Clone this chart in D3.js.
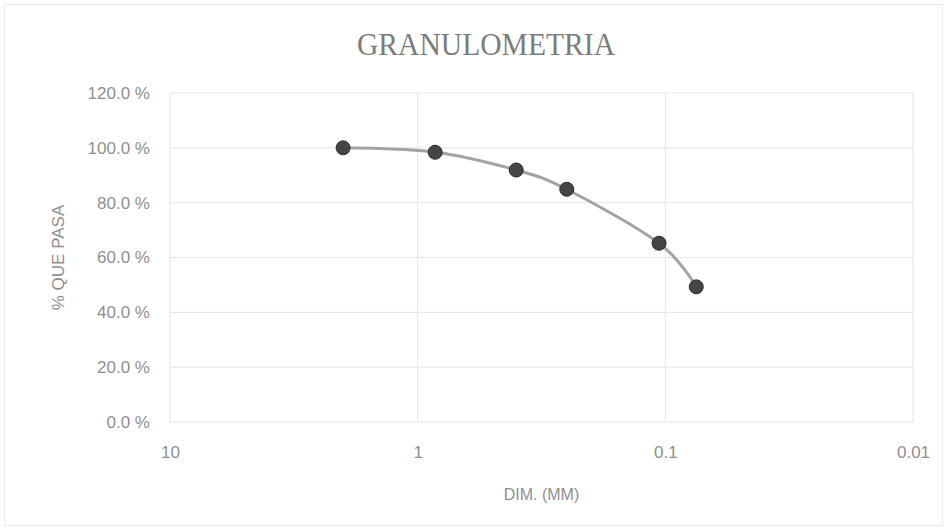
<!DOCTYPE html>
<html>
<head>
<meta charset="utf-8">
<script src="https://cdn.jsdelivr.net/npm/d3@7"></script>
<style>
  html, body { margin: 0; padding: 0; background: #fff; }
  svg { display: block; }
</style>
</head>
<body>
<svg id="chart" width="947" height="530"></svg>
<script>
// ---- data ----
const title = "GRANULOMETRIA";
const xTitle = "DIM. (MM)";
const yTitle = "% QUE PASA";
const sizesMM = [2.0, 0.85, 0.40, 0.25, 0.106, 0.075];
const percentPassing = [100.0, 98.4, 91.9, 84.9, 65.2, 49.3];
const xTickValues = [10, 1, 0.1, 0.01];
const xTickLabels = ["10", "1", "0.1", "0.01"];
const yTickValues = [0, 20, 40, 60, 80, 100, 120];

// ---- layout ----
const svg = d3.select("#chart");
const W = 947, H = 530;
const plot = { left: 170, right: 913, top: 93, bottom: 422 };
const textColor = "#8f8f8f";
const fontSans = "'Liberation Sans', Arial, sans-serif";

svg.append("rect")
  .attr("x", 4.5).attr("y", 4.5).attr("width", W - 9).attr("height", H - 9)
  .attr("fill", "#fff").attr("stroke", "#ececec").attr("stroke-width", 1);

const x = d3.scaleLog().domain([10, 0.01]).range([plot.left, plot.right]);
const y = d3.scaleLinear().domain([0, 120]).range([plot.bottom, plot.top]);

// gridlines
const grid = svg.append("g");
grid.selectAll("line.h").data(yTickValues).join("line")
  .attr("class", "h")
  .attr("x1", plot.left).attr("x2", plot.right)
  .attr("y1", d => y(d)).attr("y2", d => y(d))
  .attr("stroke", "#e4e4e4").attr("stroke-width", 1);
grid.selectAll("line.v").data(xTickValues).join("line")
  .attr("class", "v")
  .attr("x1", d => x(d)).attr("x2", d => x(d))
  .attr("y1", plot.top).attr("y2", plot.bottom)
  .attr("stroke", "#e4e4e4").attr("stroke-width", 1);

// y axis
const yAxis = d3.axisLeft(y).tickValues(yTickValues)
  .tickFormat(d => d.toFixed(1) + " %").tickSize(0).tickPadding(20);
const gy = svg.append("g").attr("transform", `translate(${plot.left},0)`).call(yAxis);
gy.select(".domain").remove();
gy.selectAll("text").attr("fill", textColor).style("font-family", fontSans).style("font-size", "17px");

// x axis
const xAxis = d3.axisBottom(x).tickValues(xTickValues)
  .tickFormat((d, i) => xTickLabels[i]).tickSize(0).tickPadding(24);
const gx = svg.append("g").attr("transform", `translate(0,${plot.bottom})`).call(xAxis);
gx.select(".domain").remove();
gx.selectAll("text").attr("fill", textColor).style("font-family", fontSans).style("font-size", "17px");

// title
svg.append("text")
  .attr("x", 486).attr("y", 55)
  .attr("text-anchor", "middle")
  .attr("fill", "#7c7c7c")
  .style("font-family", "'Liberation Serif', 'Times New Roman', serif")
  .style("font-size", "31px")
  .attr("textLength", 258).attr("lengthAdjust", "spacingAndGlyphs")
  .text(title);

// axis titles
svg.append("text")
  .attr("x", (plot.left + plot.right) / 2).attr("y", 500)
  .attr("text-anchor", "middle").attr("fill", textColor)
  .style("font-family", fontSans).style("font-size", "16px")
  .text(xTitle);
svg.append("text")
  .attr("transform", `translate(64,${(plot.top + plot.bottom) / 2}) rotate(-90)`)
  .attr("text-anchor", "middle").attr("fill", textColor)
  .style("font-family", fontSans).style("font-size", "17px")
  .text(yTitle);

// data
const pts = sizesMM.map((s, i) => [x(s), y(percentPassing[i])]);
svg.append("path")
  .attr("d", d3.line().curve(d3.curveCatmullRom.alpha(0))(pts))
  .attr("fill", "none").attr("stroke", "#a3a3a3").attr("stroke-width", 3);

svg.selectAll("circle.pt").data(sizesMM).join("circle")
  .attr("class", "pt")
  .attr("cx", d => x(d)).attr("cy", (d, i) => y(percentPassing[i]))
  .attr("r", 7)
  .attr("fill", "#454545").attr("stroke", "#2a2a2a").attr("stroke-width", 1);
</script>
</body>
</html>
